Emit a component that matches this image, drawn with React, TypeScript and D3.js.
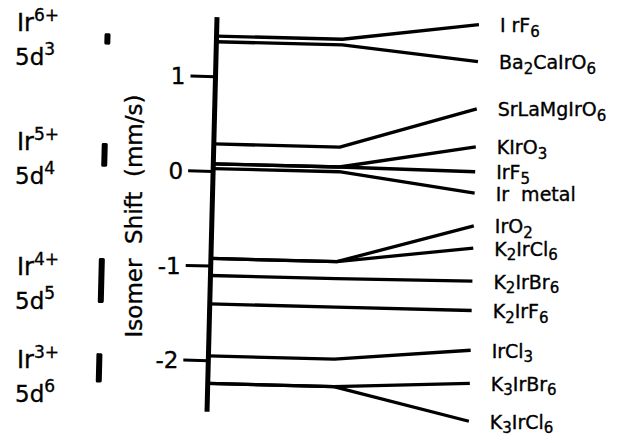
import React from "react";
import * as d3 from "d3";

// ---- data ----
const compounds = [
  "I rF_6", "Ba_2CaIrO_6", "SrLaMgIrO_6", "KIrO_3", "IrF_5", "Ir  metal",
  "IrO_2", "K_2IrCl_6", "K_2IrBr_6", "K_2IrF_6", "IrCl_3", "K_3IrBr_6", "K_3IrCl_6",
];
const isomerShifts = [1.43, 1.37, 0.29, 0.08, 0.08, 0.03, -0.92, -0.92, -1.1, -1.4, -1.95, -2.24, -2.24];
const labelShifts = [1.62, 1.23, 0.73, 0.33, 0.066, -0.16, -0.505, -0.74, -1.09, -1.4, -1.82, -2.17, -2.57];
const yTicks = [1, 0, -1, -2];
const yTickLabels = ["1", "0", "-1", "-2"];
const yAxisExtent = [-2.54, 1.63];
const oxStates = ["6+", "5+", "4+", "3+"];
const configs = ["3", "4", "5", "6"];
const stateHigh = [1.43, 0.27, -0.945, -1.95];
const stateLow = [1.31, 0.02, -1.42, -2.26];
const stateLabelShift = [1.48, 0.225, -1.095, -2.08];
const axisTitle = "Isomer  Shift  (mm/s)";

// ---- layout ----
const W = 623, H = 443;
const FONT = "'DejaVu Sans', Verdana, sans-serif";
const PIVOT: [number, number] = [212, 215];
const ANGLE = 1.45; // scan tilt, degrees clockwise
const TEXT_STROKE = { stroke: "#000", strokeWidth: 0.35 };

function rot([x, y]: [number, number]): [number, number] {
  const t = (ANGLE * Math.PI) / 180;
  const dx = x - PIVOT[0], dy = y - PIVOT[1];
  return [PIVOT[0] + dx * Math.cos(t) - dy * Math.sin(t), PIVOT[1] + dx * Math.sin(t) + dy * Math.cos(t)];
}

function Formula({ s, x, y, size, sub }: { s: string; x: number; y: number; size: number; sub: number }) {
  const segs = s.split("_");
  const nodes: React.ReactNode[] = [];
  segs.forEach((seg, i) => {
    if (i === 0) {
      nodes.push(<tspan key={"m" + i}>{seg}</tspan>);
    } else {
      nodes.push(
        <tspan key={"s" + i} fontSize={sub} dy={4.5}>{seg[0]}</tspan>
      );
      if (seg.length > 1) nodes.push(<tspan key={"r" + i} dy={-4.5}>{seg.slice(1)}</tspan>);
    }
  });
  return (
    <text x={x} y={y} fontSize={size} fontFamily={FONT} fill="#000" {...TEXT_STROKE} style={{ whiteSpace: "pre" }}>
      {nodes}
    </text>
  );
}

export default function App() {
  const y = d3.scaleLinear().domain([-2, 1]).range([360.7, 76.7]);
  const stage = d3.scaleLinear().domain([0, 1, 2]).range([212, 338, 474]);
  const axisX = stage(0);
  const labelX = 495;
  const barX = 103;
  const line = d3.line<[number, number]>().x((d) => d[0]).y((d) => d[1]);

  return (
    <svg width={W} height={H} style={{ position: "fixed", left: 0, top: 0, background: "#fff" }}>
      <g transform={`rotate(${ANGLE},${PIVOT[0]},${PIVOT[1]})`}>
        {/* compound lines */}
        {compounds.map((c, i) => (
          <path
            key={c}
            d={line([
              [stage(0), y(isomerShifts[i])],
              [stage(1), y(isomerShifts[i])],
              [stage(2), y(labelShifts[i])],
            ]) as string}
            fill="none"
            stroke="#000"
            strokeWidth={3.3}
            strokeLinejoin="round"
          />
        ))}
        {/* axis */}
        <line x1={axisX} x2={axisX} y1={y(yAxisExtent[1])} y2={y(yAxisExtent[0])} stroke="#000" strokeWidth={5} />
        {yTicks.map((t) => (
          <line key={t} x1={axisX - 25} x2={axisX} y1={y(t)} y2={y(t)} stroke="#000" strokeWidth={3} />
        ))}
        {/* oxidation-state range bars */}
        {oxStates.map((o, i) => (
          <rect
            key={o}
            x={barX - 3}
            width={6}
            y={y(stateHigh[i])}
            height={y(stateLow[i]) - y(stateHigh[i])}
            rx={1.5}
            fill="#000"
          />
        ))}
      </g>

      {/* tick labels */}
      {yTicks.map((t, i) => {
        const [px, py] = rot([axisX - 30, y(t)]);
        return (
          <text key={t} x={px} y={py + 8.5} textAnchor="end" fontSize={23} fontFamily={FONT} {...TEXT_STROKE}>
            {yTickLabels[i]}
          </text>
        );
      })}

      {/* compound labels */}
      {compounds.map((c, i) => {
        const [px, py] = rot([labelX, y(labelShifts[i])]);
        return <Formula key={c} s={c} x={px} y={py + 7} size={19} sub={15} />;
      })}

      {/* oxidation state labels */}
      {oxStates.map((o, i) => (
        <g key={o}>
          <text x={17} y={y(stateLabelShift[i])} fontSize={24} fontFamily={FONT} {...TEXT_STROKE}>
            Ir<tspan fontSize={17} dy={-10}>{o}</tspan>
          </text>
          <text x={15} y={y(stateLabelShift[i]) + 34} fontSize={23} fontFamily={FONT} {...TEXT_STROKE}>
            5d<tspan fontSize={17} dy={-10}>{configs[i]}</tspan>
          </text>
        </g>
      ))}

      {/* axis title */}
      <text
        transform={`translate(142,216) rotate(-90)`}
        textAnchor="middle"
        fontSize={23}
        fontFamily={FONT}
        {...TEXT_STROKE}
        style={{ whiteSpace: "pre" }}
      >
        {axisTitle}
      </text>
    </svg>
  );
}
